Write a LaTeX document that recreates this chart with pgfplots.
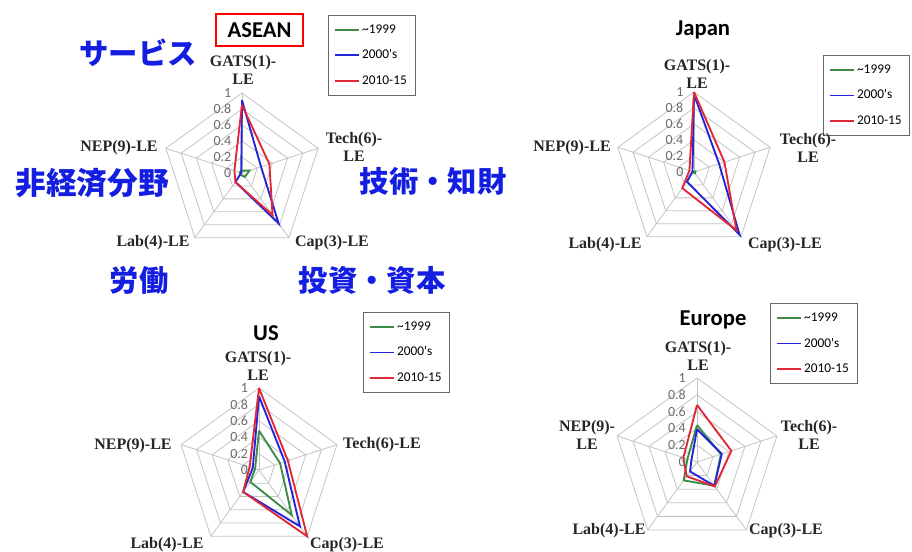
\documentclass[border=0pt]{standalone}
\usepackage{fontspec}
\setmainfont{Liberation Serif}
\newfontfamily\calfont{Carlito}
\newfontfamily\jpfont{Noto Sans CJK JP}
\usepackage{pgfplots}
\pgfplotsset{compat=1.18}
\usepgfplotslibrary{polar}

\definecolor{cgreen}{RGB}{60,140,70}
\definecolor{cblue}{RGB}{35,35,215}
\definecolor{cred}{RGB}{225,40,55}
\definecolor{jpblue}{RGB}{20,30,225}
\definecolor{gridc}{RGB}{195,195,195}

\pgfplotsset{
  radar/.style={scale only axis, anchor=center, hide axis, clip=false,
    xmin=-1, xmax=1, ymin=-1, ymax=1, width=#1, height=#1,
    legend style={anchor=north west, draw=gray!80!black, fill=white,
      font=\calfont\fontsize{10}{12}\selectfont, inner xsep=4pt, inner ysep=5pt,
      row sep=7pt, cells={anchor=west}},
    legend image code/.code={\draw[##1] (0pt,0pt) -- (18pt,0pt);},
  },
  gl/.style={gridc, line width=0.6pt, data cs=polar, forget plot},
  serA/.style={cgreen, line width=1.4pt, data cs=polar},
  serB/.style={cblue, line width=1.4pt, data cs=polar},
  serC/.style={cred, line width=1.4pt, data cs=polar},
}
\tikzset{
  ticklab/.style={anchor=east, text=gray!85!black, font=\calfont\fontsize{10.5}{12}\selectfont, inner sep=0pt},
  al/.style={font=\bfseries\fontsize{12}{13.5}\selectfont, align=center, inner sep=0pt, text=black!85},
  ttl/.style={font=\calfont\bfseries\fontsize{17}{20}\selectfont, inner sep=0pt},
  jpt/.style={font=\jpfont\bfseries\fontsize{22}{26}\selectfont, text=jpblue, inner sep=0pt},
}

\newcommand\radargrid{%
  \addplot[gl] coordinates {(90,0.2) (18,0.2) (-54,0.2) (-126,0.2) (162,0.2) (90,0.2)};
  \addplot[gl] coordinates {(90,0.4) (18,0.4) (-54,0.4) (-126,0.4) (162,0.4) (90,0.4)};
  \addplot[gl] coordinates {(90,0.6) (18,0.6) (-54,0.6) (-126,0.6) (162,0.6) (90,0.6)};
  \addplot[gl] coordinates {(90,0.8) (18,0.8) (-54,0.8) (-126,0.8) (162,0.8) (90,0.8)};
  \addplot[gl] coordinates {(90,1) (18,1) (-54,1) (-126,1) (162,1) (90,1)};
  \addplot[gl] coordinates {(90,0) (90,1)};
  \addplot[gl] coordinates {(18,0) (18,1)};
  \addplot[gl] coordinates {(-54,0) (-54,1)};
  \addplot[gl] coordinates {(-126,0) (-126,1)};
  \addplot[gl] coordinates {(162,0) (162,1)};
}
\newcommand\radarticks{%
  \node[ticklab] at (axis cs:-0.13,0) {0};
  \node[ticklab] at (axis cs:-0.13,0.2) {0.2};
  \node[ticklab] at (axis cs:-0.13,0.4) {0.4};
  \node[ticklab] at (axis cs:-0.13,0.6) {0.6};
  \node[ticklab] at (axis cs:-0.13,0.8) {0.8};
  \node[ticklab] at (axis cs:-0.13,1) {1};
}
\newcommand\leg{\legend{\textasciitilde 1999, 2000's, 2010-15}}

\begin{document}
\begin{tikzpicture}[x=0.75pt,y=0.75pt]
\path[use as bounding box] (0,0) rectangle (912,-552);

% ASEAN
\begin{axis}[radar=120pt, at={(181.5pt,-129.75pt)}, legend style={at={(1.0375,1.4875)}}]
\radargrid
\addplot[serA] coordinates {(90,0.03) (18,0.10) (-54,0.06) (-126,0.03) (162,0.03) (90,0.03)};
\addplot[serB] coordinates {(90,0.91) (18,0.25) (-54,0.78) (-126,0.14) (162,0.01) (90,0.91)};
\addplot[serC] coordinates {(90,0.85) (18,0.36) (-54,0.65) (-126,0.14) (162,0.10) (90,0.85)};
\leg
\radarticks
\end{axis}

% Japan
\begin{axis}[radar=120pt, at={(520.5pt,-129pt)}, legend style={at={(1.306,1.231)}}]
\radargrid
\addplot[serA] coordinates {(90,0.01) (18,0.02) (-54,0.02) (-126,0.01) (162,0.01) (90,0.01)};
\addplot[serB] coordinates {(90,0.97) (18,0.33) (-54,0.97) (-126,0.15) (162,0.02) (90,0.97)};
\addplot[serC] coordinates {(90,1.00) (18,0.40) (-54,0.90) (-126,0.25) (162,0.06) (90,1.00)};
\leg
\radarticks
\end{axis}

% US
\begin{axis}[radar=123pt, at={(194.25pt,-352.5pt)}, legend style={at={(1.134,1.463)}}]
\radargrid
\addplot[serA] coordinates {(90,0.48) (18,0.27) (-54,0.68) (-126,0.18) (162,0.05) (90,0.48)};
\addplot[serB] coordinates {(90,0.90) (18,0.33) (-54,0.85) (-126,0.33) (162,0.08) (90,0.90)};
\addplot[serC] coordinates {(90,1.00) (18,0.37) (-54,1.00) (-126,0.33) (162,0.12) (90,1.00)};
\leg
\radarticks
\end{axis}

% Europe
\begin{axis}[radar=126pt, at={(522.75pt,-346.5pt)}, legend style={at={(0.9345,1.446)}}]
\radargrid
\addplot[serA] coordinates {(90,0.44) (18,0.30) (-54,0.35) (-126,0.27) (162,0.12) (90,0.44)};
\addplot[serB] coordinates {(90,0.39) (18,0.31) (-54,0.35) (-126,0.14) (162,0.07) (90,0.39)};
\addplot[serC] coordinates {(90,0.68) (18,0.43) (-54,0.36) (-126,0.21) (162,0.17) (90,0.68)};
\leg
\radarticks
\end{axis}

% axis category labels
\node[al] at (243,-70) {GATS(1)-\\LE};
\node[al] at (354,-147) {Tech(6)-\\LE};
\node[al] at (332,-243) {Cap(3)-LE};
\node[al] at (153,-243) {Lab(4)-LE};
\node[al] at (119,-148) {NEP(9)-LE};

\node[al] at (697,-74) {GATS(1)-\\LE};
\node[al] at (808,-148) {Tech(6)-\\LE};
\node[al] at (572,-148) {NEP(9)-LE};
\node[al] at (605,-245) {Lab(4)-LE};
\node[al] at (785,-245) {Cap(3)-LE};

\node[al] at (258,-366) {GATS(1)-\\LE};
\node[al] at (382,-445) {Tech(6)-LE};
\node[al] at (133,-446) {NEP(9)-LE};
\node[al] at (167,-545) {Lab(4)-LE};
\node[al] at (347,-545) {Cap(3)-LE};

\node[al] at (698,-356) {GATS(1)-\\LE};
\node[al] at (809,-435) {Tech(6)-\\LE};
\node[al] at (587,-435) {NEP(9)-\\LE};
\node[al] at (609,-531) {Lab(4)-LE};
\node[al] at (786,-531) {Cap(3)-LE};

% titles
\node[ttl, draw=red, line width=1.5pt, minimum width=65pt, minimum height=24pt] at (259.5,-30) {ASEAN};
\node[ttl] at (703,-30) {Japan};
\node[ttl] at (266,-333) {US};
\node[ttl] at (713,-320) {Europe};

% Japanese annotations
\node[jpt] at (138,-53) {サービス};
\node[jpt, font=\jpfont\bfseries\fontsize{23}{26}\selectfont] at (92,-183) {非経済分野};
\node[jpt] at (433,-181) {技術・知財};
\node[jpt] at (139,-280) {労働};
\node[jpt] at (372,-280) {投資・資本};
\end{tikzpicture}
\end{document}
